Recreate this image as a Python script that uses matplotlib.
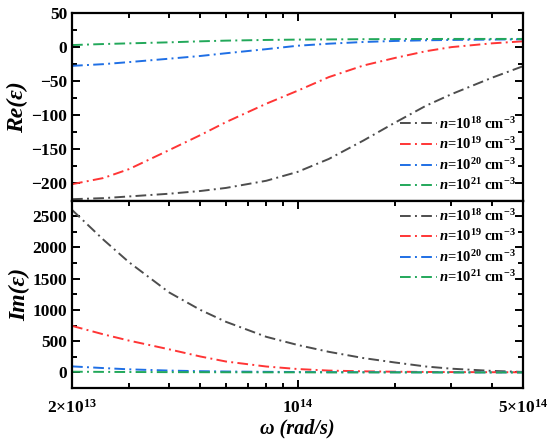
import numpy as np
import matplotlib
matplotlib.use('Agg')
import matplotlib.pyplot as plt
from matplotlib.ticker import FixedLocator, MultipleLocator, NullFormatter

plt.rcParams['font.family'] = ['Liberation Serif', 'DejaVu Serif']
plt.rcParams['font.weight'] = 'bold'
plt.rcParams['mathtext.fontset'] = 'custom'
plt.rcParams['mathtext.rm'] = 'Liberation Serif:bold'
plt.rcParams['mathtext.bf'] = 'Liberation Serif:bold'
plt.rcParams['mathtext.it'] = 'Liberation Serif:italic:bold'

# angular frequency (rad/s)
omega = [2e13, 2.5e13, 3e13, 4e13, 5e13, 6e13, 8e13, 1e14,
         1.25e14, 1.6e14, 2e14, 2.5e14, 3e14, 4e14, 5e14]

# real part of permittivity
re_n18 = [-223, -221.5, -219, -215, -211, -206.5, -196, -183,
          -164, -137, -111, -86, -69, -45, -28]
re_n19 = [-201, -192, -179, -151, -129, -110, -83, -64,
          -44, -27, -16, -6, 0, 5.5, 8.5]
re_n20 = [-27.5, -25, -22, -17, -13, -9, -3, 2,
          5, 7.5, 9, 10, 10.5, 11, 11.5]
re_n21 = [3, 4.5, 5.5, 7, 8.5, 9.5, 10.5, 11,
          11.3, 11.6, 11.8, 11.9, 12, 12, 12]

# imaginary part of permittivity
im_n18 = [2600, 2125, 1765, 1280, 1000, 810, 570, 440,
          330, 230, 160, 95, 60, 25, 8]
im_n19 = [745, 610, 510, 370, 255, 175, 95, 55,
          30, 18, 12, 8, 6, 4, 3]
im_n20 = [97, 70, 50, 30, 20, 15, 10, 7,
          5, 4, 3, 2, 2, 1, 1]
im_n21 = [12, 9, 7, 5, 4, 3, 2, 2,
          1, 1, 1, 1, 0.5, 0.5, 0.5]

labels = [r'$n$=10$^{18}$ cm$^{-3}$', r'$n$=10$^{19}$ cm$^{-3}$',
          r'$n$=10$^{20}$ cm$^{-3}$', r'$n$=10$^{21}$ cm$^{-3}$']
colors = ['#4d4d4d', '#ff3535', '#1f6fe5', '#22a85a']

xticks = [2e13, 1e14, 5e14]
xticklabels = [r'$2{\times}10^{13}$', r'$10^{14}$', r'$5{\times}10^{14}$']
xminor = [3e13, 4e13, 5e13, 6e13, 7e13, 8e13, 9e13, 2e14, 3e14, 4e14]

ls = (0, (5.5, 2.2, 1, 2.2))

fig, (ax1, ax2) = plt.subplots(2, 1, figsize=(5.5, 4.41), dpi=100, sharex=True)
fig.subplots_adjust(left=0.131, right=0.951, top=0.9705, bottom=0.12, hspace=0)

for ys, c, lab in zip([re_n18, re_n19, re_n20, re_n21], colors, labels):
    ax1.plot(omega, ys, color=c, lw=1.4, linestyle=ls, label=lab)
for ys, c, lab in zip([im_n18, im_n19, im_n20, im_n21], colors, labels):
    ax2.plot(omega, ys, color=c, lw=1.4, linestyle=ls, label=lab)

for ax in (ax1, ax2):
    ax.set_xscale('log')
    ax.set_xlim(2e13, 5e14)
    ax.xaxis.set_major_locator(FixedLocator(xticks))
    ax.xaxis.set_minor_locator(FixedLocator(xminor))
    ax.xaxis.set_minor_formatter(NullFormatter())
    ax.tick_params(which='both', direction='in', width=1.4, labelsize=12.5,
                   top=True, right=True)
    ax.tick_params(which='major', length=6)
    ax.tick_params(which='minor', length=3.5)
    for s in ax.spines.values():
        s.set_linewidth(1.6)
    ax.legend(frameon=False, fontsize=10.5, handlelength=2.6, handletextpad=0.1,
              labelspacing=0.32, borderaxespad=0.1,
              loc='lower right' if ax is ax1 else 'upper right')

ax1.tick_params(axis='x', which='both', bottom=False)
ax1.set_ylim(-225, 50)
ax1.yaxis.set_major_locator(MultipleLocator(50))
ax1.yaxis.set_minor_locator(MultipleLocator(25))
ax1.set_ylabel('Re(ε)', fontsize=17, fontstyle='italic', fontweight='bold', labelpad=2)

ax2.set_ylim(-250, 2750)
ax2.yaxis.set_major_locator(MultipleLocator(500))
ax2.yaxis.set_minor_locator(MultipleLocator(250))
ax2.set_xticklabels(xticklabels)
ax2.tick_params(axis='x', which='major', pad=8)
ax2.set_ylabel('Im(ε)', fontsize=17, fontstyle='italic', fontweight='bold', labelpad=2)
ax2.set_xlabel('ω (rad/s)', fontsize=14.5, fontstyle='italic', fontweight='bold', labelpad=1)

for t in ax1.get_yticklabels() + ax2.get_yticklabels():
    t.set_fontweight('bold')

fig.savefig('out.png', dpi=100)
